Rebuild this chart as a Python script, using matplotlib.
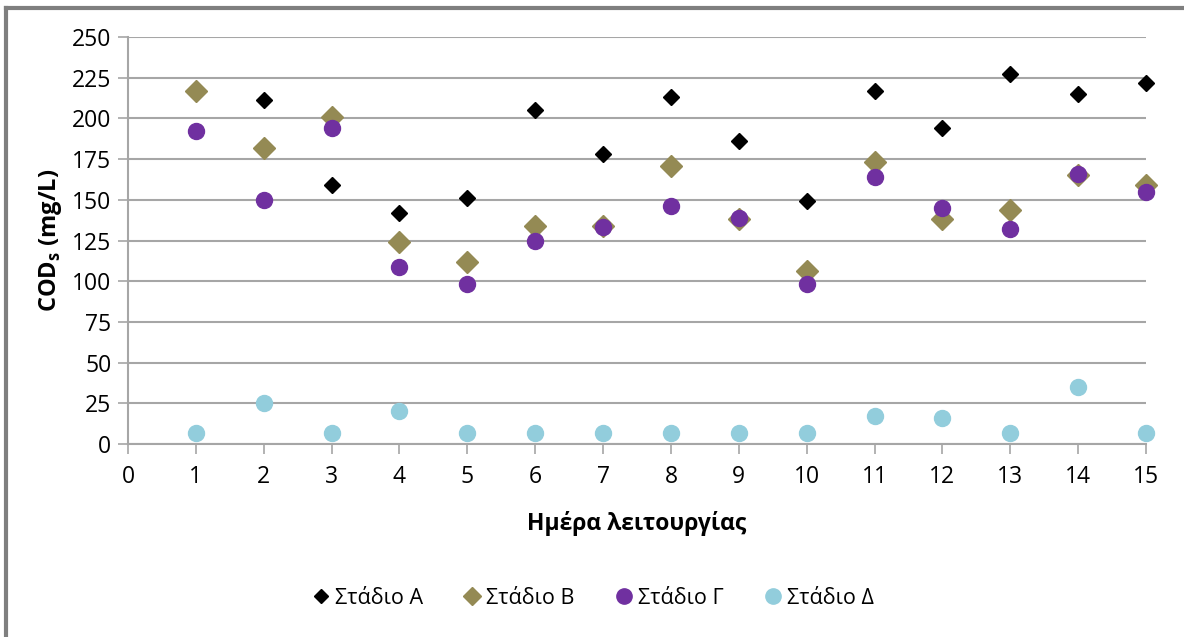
import matplotlib
matplotlib.use('Agg')
import matplotlib.pyplot as plt
from matplotlib.lines import Line2D

plt.rcParams['font.family'] = ['Open Sans', 'DejaVu Sans']

# data
days = list(range(1, 16))
stage_a = [None, 211, 159, 142, 151, 205, 178, 213, 186, 149, 217, 194, 227, 215, 222]
stage_b = [217, 182, 201, 124, 112, 134, 134, 171, 138, 106, 173, 138, 144, 165, 159]
stage_g = [192, 150, 194, 109, 98, 125, 133, 146, 139, 98, 164, 145, 132, 166, 155]
stage_d = [7, 25, 7, 20, 7, 7, 7, 7, 7, 7, 17, 16, 7, 35, 7]
series_names = ['Στάδιο Α', 'Στάδιο Β', 'Στάδιο Γ', 'Στάδιο Δ']
y_ticks = list(range(0, 251, 25))
x_ticks = list(range(0, 16))

col_a = '#000000'
col_b = '#948A54'
col_g = '#7030A0'
col_d = '#92CDDC'
grid_col = '#A6A6A6'

fig = plt.figure(figsize=(11.84, 6.37), dpi=100)
ax = fig.add_axes([128/1184, 1-444/637, (1146-128)/1184, (444-37)/637])

xa = [d for d, v in zip(days, stage_a) if v is not None]
ya = [v for v in stage_a if v is not None]
ax.plot(days, stage_b, linestyle='none', marker='D', ms=11, color=col_b, zorder=3, clip_on=False)
ax.plot(xa, ya, linestyle='none', marker='D', ms=8, color=col_a, zorder=4, clip_on=False)
ax.plot(days, stage_g, linestyle='none', marker='o', ms=11.5, color=col_g, zorder=5, clip_on=False)
ax.plot(days, stage_d, linestyle='none', marker='o', ms=11.5, color=col_d, zorder=5, clip_on=False)

ax.set_xlim(0, 15)
ax.set_ylim(0, 250)
ax.set_xticks(x_ticks)
ax.set_yticks(y_ticks)
ax.tick_params(axis='both', labelsize=16.5, colors=grid_col, labelcolor='#000000',
               length=7, width=1.2)
ax.tick_params(axis='y', pad=5)
ax.tick_params(axis='x', pad=8)
ax.yaxis.grid(True, color=grid_col, linewidth=1.5)
ax.set_axisbelow(True)
for s in ['top', 'right']:
    ax.spines[s].set_visible(False)
for s in ['left', 'bottom']:
    ax.spines[s].set_color(grid_col)
    ax.spines[s].set_linewidth(1.5)

ax.set_ylabel(r'COD$_\mathregular{s}$ (mg/L)', fontsize=17, fontweight='bold', labelpad=6)
ax.set_xlabel('Ημέρα λειτουργίας', fontsize=16.5, fontweight='bold', labelpad=16)

handles = [
    Line2D([], [], linestyle='none', marker='D', ms=7.5, color=col_a),
    Line2D([], [], linestyle='none', marker='D', ms=9, color=col_b),
    Line2D([], [], linestyle='none', marker='o', ms=11, color=col_g),
    Line2D([], [], linestyle='none', marker='o', ms=11, color=col_d),
]
fig.legend(handles, series_names, loc='center', bbox_to_anchor=(592/1184, 1-598/637),
           ncol=4, frameon=False, fontsize=15.5, handletextpad=0.15, columnspacing=1.8,
           handlelength=1.0)

# chart frame, only left and top edges are visible in the reference
fig.add_artist(Line2D([6/1184, 6/1184], [0, 1-8/637], color='#7F7F7F', lw=3,
                      transform=fig.transFigure))
fig.add_artist(Line2D([6/1184, 1], [1-8/637, 1-8/637], color='#7F7F7F', lw=3,
                      transform=fig.transFigure))

fig.savefig('out.png', dpi=100)
